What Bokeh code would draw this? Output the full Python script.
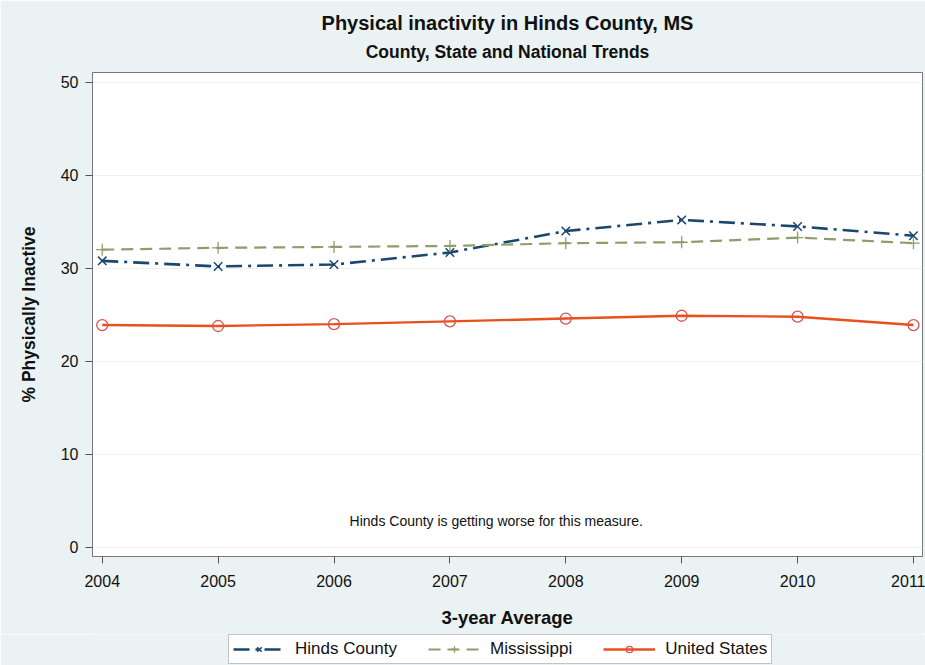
from bokeh.plotting import figure
from bokeh.layouts import column
from bokeh.models import Range1d, FixedTicker, Title, Legend, LegendItem, Label
from bokeh.embed import file_html
from bokeh.resources import INLINE

# ---- data ----
years = [2004, 2005, 2006, 2007, 2008, 2009, 2010, 2011]
hinds = [30.8, 30.2, 30.4, 31.7, 34.0, 35.2, 34.5, 33.5]
mississippi = [32.0, 32.2, 32.3, 32.4, 32.7, 32.8, 33.3, 32.7]
united_states = [23.9, 23.8, 24.0, 24.3, 24.6, 24.9, 24.8, 23.9]
y_ticks = [0, 10, 20, 30, 40, 50]
series_names = ["Hinds County", "Mississippi", "United States"]

title_main = "Physical inactivity in Hinds County, MS"
title_sub = "County, State and National Trends"
x_title = "3-year Average"
y_title = "% Physically Inactive"
note_text = "Hinds County is getting worse for this measure."
note_x, note_y = 2007.4, 2.8

FONT = "Liberation Sans"
BG = "#eaf2f3"
NAVY = "#1a476f"
OLIVE = "#8e9d6a"
ORANGE = "#e8501e"
CIRCLE = "#d9534f"

STYLES = [
    dict(line=dict(line_color=NAVY, line_width=2.6, line_dash="16 6 3 6"),
         mark=dict(marker="x", size=12, line_color=NAVY, line_width=1.5)),
    dict(line=dict(line_color=OLIVE, line_width=2.2, line_dash="12 7"),
         mark=dict(marker="cross", size=12, line_color=OLIVE, line_width=1.3)),
    dict(line=dict(line_color=ORANGE, line_width=2.4),
         mark=dict(marker="circle", size=11, fill_color=None, line_color=CIRCLE, line_width=1.3)),
]
SERIES = [hinds, mississippi, united_states]

p = figure(width=925, height=634, output_backend="svg", toolbar_location=None,
           x_range=Range1d(2003.916, 2011.078), y_range=Range1d(-0.97, 51.04),
           title=title_main,
           min_border_left=92, min_border_right=3, min_border_top=72, min_border_bottom=78)

p.border_fill_color = BG
p.background_fill_color = "white"
p.outline_line_color = "#777777"
p.outline_line_width = 1

# titles
p.title.align = "center"
p.title.text_font = FONT
p.title.text_font_size = "20px"
p.title.text_font_style = "bold"
p.title.text_color = "#111111"
try:
    p.title.standoff = -10
except Exception:
    p.title.standoff = 0
p.add_layout(Title(text=title_sub, align="center", text_font=FONT, text_font_size="17.5px",
                   text_font_style="bold", text_color="#111111", standoff=22), "above")

# axes
p.xaxis.ticker = FixedTicker(ticks=years)
p.yaxis.ticker = FixedTicker(ticks=y_ticks)
for ax in (p.xaxis[0], p.yaxis[0]):
    ax.axis_line_color = "#777777"
    ax.major_tick_line_color = "#555555"
    ax.major_tick_out = 7
    ax.major_tick_in = 0
    ax.minor_tick_line_color = None
    ax.major_label_text_font = FONT
    ax.major_label_text_font_size = "16px"
    ax.major_label_text_color = "#111111"
    ax.axis_label_text_font = FONT
    ax.axis_label_text_font_style = "bold"
    ax.axis_label_text_color = "#111111"
p.xaxis.axis_label = x_title
p.yaxis.axis_label = y_title
p.xaxis.axis_label_text_font_size = "18.5px"
p.yaxis.axis_label_text_font_size = "17.5px"
p.xaxis.major_label_standoff = 11
p.xaxis.axis_label_standoff = 17
p.yaxis.major_label_standoff = 7
p.yaxis.axis_label_standoff = 19
p.yaxis.major_label_orientation = "horizontal"

p.xgrid.grid_line_color = None
p.ygrid.grid_line_color = "#f0f0ea"
p.ygrid.grid_line_width = 1

for vals, st in zip(SERIES, STYLES):
    p.line(years, vals, **st["line"])
    p.scatter(years, vals, **st["mark"])

p.add_layout(Label(x=note_x, y=note_y, text=note_text, text_align="center",
                   text_baseline="middle", text_font=FONT, text_font_size="14px",
                   text_color="#111111"))

# ---- legend strip (same series, drawn outside its view so only the keys show) ----
q = figure(width=925, height=31, output_backend="svg", toolbar_location=None,
           x_range=Range1d(0, 1), y_range=Range1d(0, 1),
           x_axis_location=None, y_axis_location=None, min_border=0)
q.border_fill_color = BG
q.background_fill_color = BG
q.outline_line_color = None
q.grid.visible = False

items = []
for name, vals, st in zip(series_names, SERIES, STYLES):
    rl = q.line(years, vals, **st["line"])
    rm = q.scatter(years, vals, **st["mark"])
    items.append(LegendItem(label=name, renderers=[rl, rm]))

legend = Legend(items=items, orientation="horizontal", location=(136, 1))
legend.label_text_font = FONT
legend.label_text_font_size = "17px"
legend.label_text_color = "#111111"
legend.glyph_width = 52
legend.glyph_height = 16
legend.label_standoff = 10
legend.spacing = 31
legend.padding = 4
legend.border_line_color = "#888888"
legend.border_line_width = 1
legend.background_fill_color = "white"
legend.background_fill_alpha = 1.0
q.add_layout(legend, "center")

layout = column(p, q, spacing=0)
open("out.html", "w").write(file_html(layout, INLINE))
